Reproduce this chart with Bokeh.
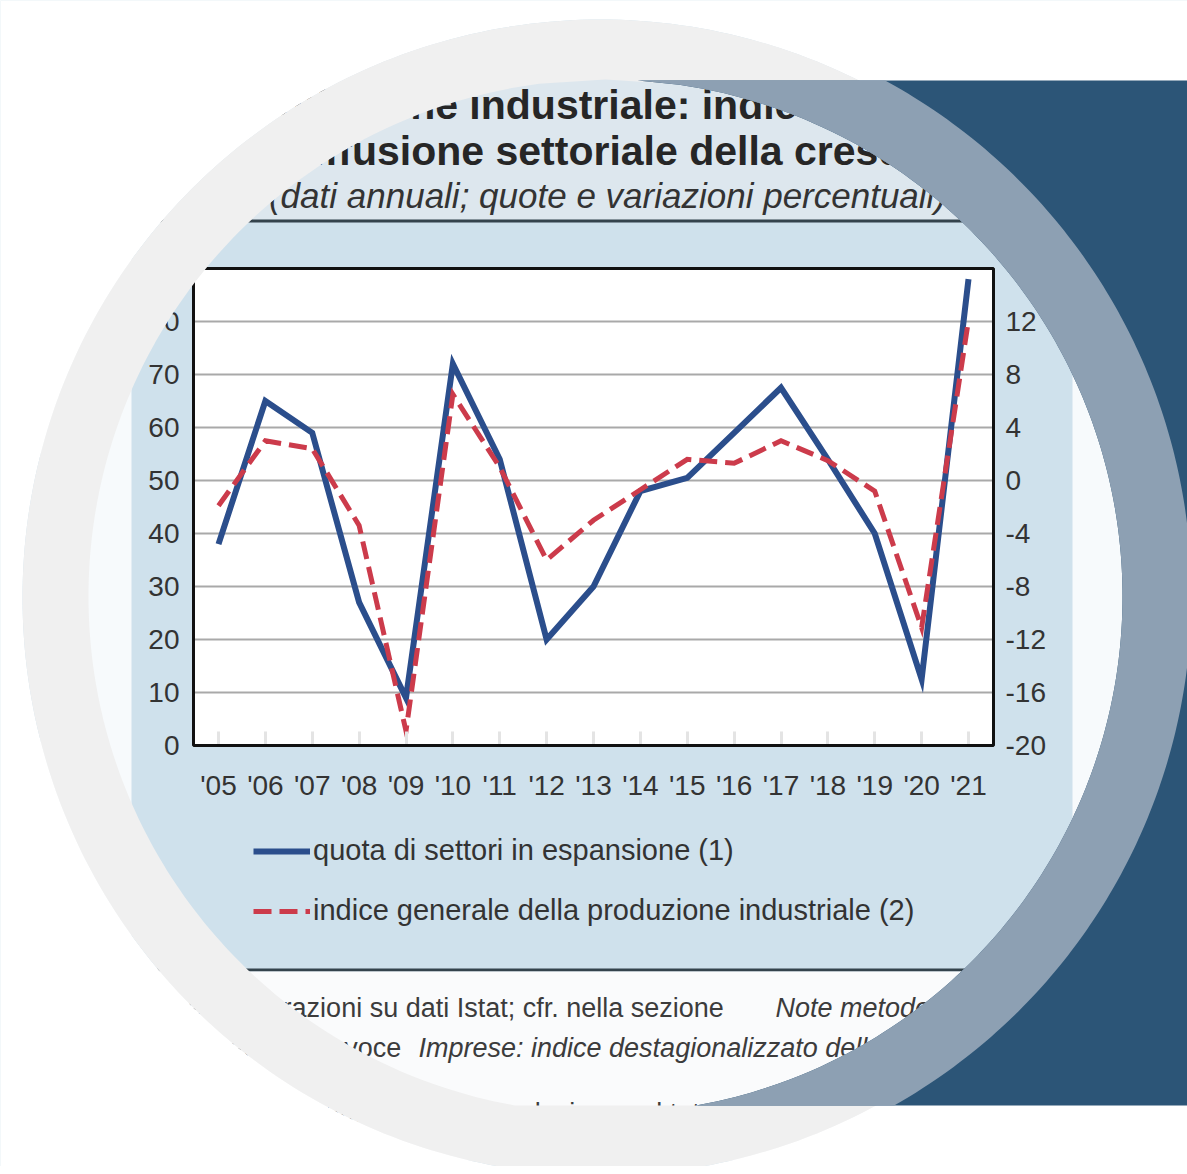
import numpy as np
from bokeh.plotting import figure
from bokeh.models import (Range1d, LinearAxis, FixedTicker, Label, BoxAnnotation,
                          PolyAnnotation, Legend, LegendItem)
from bokeh.embed import file_html
from bokeh.resources import INLINE

# ---------------- data ----------------
years = list(range(2005, 2022))
year_labels = ["'05", "'06", "'07", "'08", "'09", "'10", "'11", "'12", "'13",
               "'14", "'15", "'16", "'17", "'18", "'19", "'20", "'21"]
quota_settori = [38, 65, 59, 27, 9, 72, 54, 20, 30, 48, 50.5, 59, 67.5, 54, 40, 12.5, 88]
indice_produzione = [-1.9, 3.0, 2.4, -3.4, -18.9, 6.5, 1.0, -6.0, -3.0, -0.7, 1.6, 1.3,
                     3.0, 1.5, -0.8, -11.1, 12.1]
left_ticks = [0, 10, 20, 30, 40, 50, 60, 70, 80]
right_ticks = [-20, -16, -12, -8, -4, 0, 4, 8, 12]
right_tick_labels = ["-20", "-16", "-12", "-8", "-4", "0", "4", "8", "12"]
legend_labels = ["quota di settori in espansione (1)",
                 "indice generale della produzione industriale (2)"]

# ---------------- geometry (canvas pixels) ----------------
W, H = 1187, 1166
FL, FR, FT, FB = 193, 993, 268, 745      # plot box
X_PX0, X_STEP = 218, 46.875              # '05 position, px per year
Y_STEP, R_STEP = 5.3, 13.25              # px per unit, left and right scale


def px2x(px):
    return 2005 + (np.asarray(px, dtype=float) - X_PX0) / X_STEP


def py2y(py):
    return (FB - np.asarray(py, dtype=float)) / Y_STEP


def py2r(py):
    return -20 + (FB - np.asarray(py, dtype=float)) / R_STEP


p = figure(width=W, height=H,
           x_range=Range1d(float(px2x(0)), float(px2x(W))),
           y_range=Range1d(float(py2y(H)), float(py2y(0))),
           output_backend="svg", toolbar_location=None,
           min_border=0, min_border_left=0, min_border_right=0,
           min_border_top=0, min_border_bottom=0)
p.extra_y_ranges = {"right": Range1d(float(py2r(H)), float(py2r(0)))}
p.background_fill_color = "#CFE1EC"
p.border_fill_color = "#CFE1EC"
p.outline_line_color = None
p.xgrid.visible = False
p.ygrid.visible = False

FONT = "Liberation Sans"
plot_left, plot_right = float(px2x(FL)), float(px2x(FR))
plot_bottom, plot_top = float(py2y(FB)), float(py2y(FT))

# ---------------- axes (fixed at the plot box) ----------------
xa = p.xaxis[0]
ya = p.yaxis[0]
ra = LinearAxis(y_range_name="right")
p.add_layout(ra, "right")

for ax in (xa, ya, ra):
    ax.axis_line_color = None
    ax.major_tick_out = 0
    ax.minor_tick_out = 0
    ax.minor_tick_in = 0
    ax.major_label_text_font = FONT
    ax.major_label_text_font_size = "28px"
    ax.major_label_text_color = "#333333"

xa.fixed_location = plot_bottom
xa.ticker = FixedTicker(ticks=years)
xa.major_label_overrides = {y: lab for y, lab in zip(years, year_labels)}
xa.major_label_standoff = 24
xa.major_tick_in = 14
xa.major_tick_line_color = "#E4E4E4"
xa.major_tick_line_width = 3

ya.fixed_location = plot_left
ya.ticker = FixedTicker(ticks=left_ticks)
ya.major_label_standoff = 14
ya.major_tick_in = 0

ra.fixed_location = plot_right
ra.ticker = FixedTicker(ticks=right_ticks)
ra.major_label_overrides = {t: lab for t, lab in zip(right_ticks, right_tick_labels)}
ra.major_tick_in = 0
ra.major_label_standoff = 12


# ---------------- chart "page" backgrounds ----------------
def box(l, r, t, b, color, level="image"):
    p.add_layout(BoxAnnotation(left=float(px2x(l)), right=float(px2x(r)),
                               top=float(py2y(t)), bottom=float(py2y(b)),
                               fill_color=color, fill_alpha=1.0, line_color=None,
                               level=level))


box(40, 1150, 40, 219, "#DDE7EE")
box(40, 1150, 219, 222, "#34434C")
box(40, 131, 222, 968, "#F7FAFC")
box(1072, 1150, 222, 968, "#F7FAFC")
box(40, 1150, 968, 971, "#34434C")
box(40, 1150, 971, 1160, "#FAFBFC")
# white plot area
p.add_layout(BoxAnnotation(left=plot_left, right=plot_right, top=plot_top, bottom=plot_bottom,
                           fill_color="white", fill_alpha=1.0, line_color=None, level="image"))

# horizontal grid lines at the left-axis ticks
grid_vals = left_ticks[1:]
p.segment(x0=[plot_left] * len(grid_vals), x1=[plot_right] * len(grid_vals),
          y0=grid_vals, y1=grid_vals, line_color="#A9A9A9", line_width=2)

r1 = p.line(years, quota_settori, line_color="#2B4E8C", line_width=6, line_join="miter")
r2 = p.line(years, indice_produzione, y_range_name="right", line_color="#CC3B4B",
            line_width=5, line_dash="18 8", line_join="miter")

# plot box outline
p.add_layout(BoxAnnotation(left=plot_left, right=plot_right, top=plot_top, bottom=plot_bottom,
                           fill_alpha=0, line_color="#111111", line_alpha=1.0, line_width=3))


def label(text, x, y, size, style="normal", align="left", color="#262626"):
    p.add_layout(Label(x=float(px2x(x)), y=float(py2y(y)), text=text,
                       text_font=FONT, text_font_size=f"{size}px",
                       text_font_style=style, text_align=align,
                       text_baseline="alphabetic", text_color=color))


label("Produzione industriale: indice generale", 617, 104, 41, "bold", "center")
label("e diffusione settoriale della crescita", 601, 150, 41, "bold", "center")
label("(dati annuali; quote e variazioni percentuali)", 607, 195, 35, "italic", "center", "#333333")

label("Fonte: elaborazioni su dati Istat; cfr. nella sezione", 132, 1007, 27, color="#3C3C3C")
label("Note metodologiche dell\u2019Appendice", 775, 1007, 27, "italic", color="#3C3C3C")
label("dell\u2019Appendice la voce", 132, 1047, 27, color="#3C3C3C")
label("Imprese: indice destagionalizzato della produzione industriale", 418, 1047, 27,
      "italic", color="#3C3C3C")
label("(1) Settori con aumento della produzione sul totale.", 132, 1112, 27, color="#3C3C3C")

legend = Legend(items=[LegendItem(label=legend_labels[0], renderers=[r1]),
                       LegendItem(label=legend_labels[1], renderers=[r2])],
                location=(253, H - 927), orientation="vertical",
                glyph_width=57, glyph_height=30, label_height=30, spacing=27,
                padding=0, margin=0, label_standoff=3,
                background_fill_alpha=0, border_line_alpha=0,
                label_text_font=FONT, label_text_font_size="29px",
                label_text_color="#333333")
p.add_layout(legend)


# ---------------- decorative frame (circles and panel) ----------------
def arc(cx, cy, r, y_from, y_to, side, n=240):
    ys = np.linspace(y_from, y_to, n)
    dx = np.sqrt(np.clip(r ** 2 - (ys - cy) ** 2, 0, None))
    return cx + side * dx, ys


def circle_pts(cx, cy, r, n=360):
    t = np.linspace(0, 2 * np.pi, n, endpoint=False)
    return cx + r * np.cos(t), cy + r * np.sin(t)


def area(x, y):
    return 0.5 * np.sum(x * np.roll(y, -1) - np.roll(x, -1) * y)


def with_hole(ox, oy, ix, iy):
    if area(ox, oy) * area(ix, iy) > 0:
        ix, iy = ix[::-1], iy[::-1]
    k = int(np.argmin((ix - ox[0]) ** 2 + (iy - oy[0]) ** 2))
    ix, iy = np.roll(ix, -k), np.roll(iy, -k)
    xs = np.concatenate([ox, [ox[0]], ix, [ix[0]]])
    ys = np.concatenate([oy, [oy[0]], iy, [iy[0]]])
    return xs, ys


def poly(xs, ys, color):
    p.add_layout(PolyAnnotation(xs=[float(v) for v in px2x(xs)],
                                ys=[float(v) for v in py2y(ys)],
                                fill_color=color, fill_alpha=1.0, line_color=None))


C = (605, 596, 517)   # picture disc
G = (605, 595, 586)   # outer edge of the ring over the navy panel
L = (600, 597, 578)   # light grey disc
RECT_L, RECT_T, RECT_B = 600, 80, 1105
c_top = C[1] - C[2]

# picture region: disc cut at the panel bottom
rx_r, ry_r = arc(*C, c_top, RECT_B, +1)
rx_l, ry_l = arc(*C, RECT_B, c_top, -1)
rc_x = np.concatenate([rx_r, rx_l])
rc_y = np.concatenate([ry_r, ry_l])

lx, ly = circle_pts(*L)

# white outside the light grey disc
ox = np.array([-200.0, 1400.0, 1400.0, -200.0])
oy = np.array([-200.0, -200.0, 1400.0, 1400.0])
xs, ys = with_hole(ox, oy, lx, ly)
poly(xs, ys, "#FFFFFF")

# light grey disc, hole = picture
xs, ys = with_hole(lx, ly, rc_x, rc_y)
poly(xs, ys, "#F0F0F0")

# navy panel
cux, cuy = arc(*C, RECT_B, RECT_T, +1)
nx = np.concatenate([[RECT_L, 1260, 1260], cux, [RECT_L]])
ny = np.concatenate([[RECT_T, RECT_T, RECT_B], cuy, [RECT_T]])
poly(nx, ny, "#2C5577")

# grey-blue ring over the panel
gx, gy = arc(*G, RECT_T, RECT_B, +1)
rx = np.concatenate([[RECT_L], gx, cux, [RECT_L]])
ry = np.concatenate([[RECT_T], gy, cuy, [RECT_T]])
poly(rx, ry, "#8DA0B3")

open("out.html", "w").write(file_html(p, INLINE))
